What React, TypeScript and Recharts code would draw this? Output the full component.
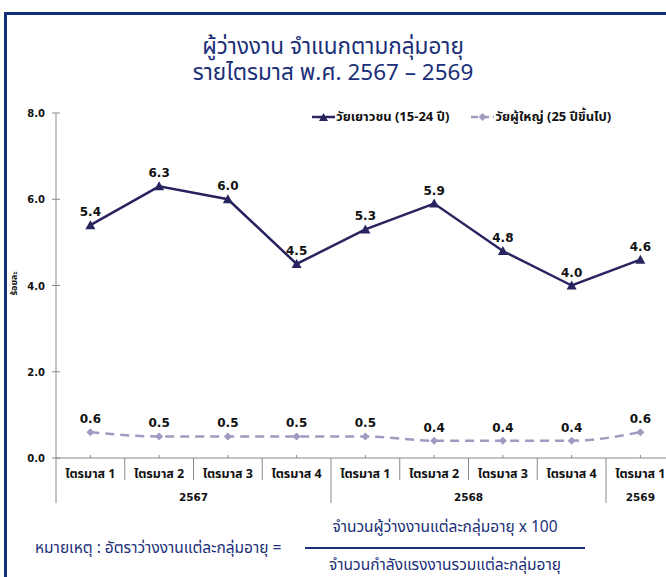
import React from 'react';
import { LineChart, Line, XAxis, YAxis, LabelList } from 'recharts';

const quarters = ['ไตรมาส 1', 'ไตรมาส 2', 'ไตรมาส 3', 'ไตรมาส 4', 'ไตรมาส 1', 'ไตรมาส 2', 'ไตรมาส 3', 'ไตรมาส 4', 'ไตรมาส 1'];
const years = ['2567', '2567', '2567', '2567', '2568', '2568', '2568', '2568', '2569'];
const youth = [5.4, 6.3, 6.0, 4.5, 5.3, 5.9, 4.8, 4.0, 4.6];
const adult = [0.6, 0.5, 0.5, 0.5, 0.5, 0.4, 0.4, 0.4, 0.6];
const yTicks = [0, 2, 4, 6, 8];
const titleLines = ['ผู้ว่างงาน จำแนกตามกลุ่มอายุ', 'รายไตรมาส พ.ศ. 2567 – 2569'];
const seriesNames = ['วัยเยาวชน (15-24 ปี)', 'วัยผู้ใหญ่ (25 ปีขึ้นไป)'];
const yLabel = 'ร้อยละ';
const noteLabel = 'หมายเหตุ : อัตราว่างงานแต่ละกลุ่มอายุ =';
const noteNum = 'จำนวนผู้ว่างงานแต่ละกลุ่มอายุ x 100';
const noteDen = 'จำนวนกำลังแรงงานรวมแต่ละกลุ่มอายุ';

const data = quarters.map((q, i) => ({ q, year: years[i], youth: youth[i], adult: adult[i] }));

const CHART_W = 700;
const CHART_H = 577;
const PLOT_LEFT = 56;
const PLOT_TOP = 113;
const PLOT_BOTTOM = 458;
const BAND = 68.75;
const PLOT_RIGHT = PLOT_LEFT + BAND * quarters.length;

const THAI = "Tahoma, 'Noto Sans Thai', 'Noto Sans', 'DejaVu Sans', sans-serif";
const NUM = "'DejaVu Sans', Verdana, sans-serif";
const NAVY = '#28245f';
const LAV = '#9e9bc0';
const AXIS = '#8a8a8a';
const BLUE = '#1b2f78';

const XTick = (props: any) => {
  const { x, y, payload } = props;
  const i = payload.index;
  const left = x - BAND / 2;
  const newYear = i === 0 || years[i] !== years[i - 1];
  let count = 0;
  if (newYear) {
    for (let j = i; j < years.length && years[j] === years[i]; j++) count++;
  }
  return (
    <g>
      <line x1={x} y1={y - 3} x2={x} y2={y} stroke={AXIS} strokeWidth={1} />
      <line x1={left} y1={y} x2={left} y2={y + (newYear ? 45 : 22)} stroke={AXIS} strokeWidth={1} />
      <text x={x} y={y + 20} textAnchor="middle" fontFamily={THAI} fontWeight="bold" fontSize={12.5} fill="#111">
        {quarters[i]}
      </text>
      {newYear && (
        <text x={left + (count * BAND) / 2} y={y + 43} textAnchor="middle" fontFamily={NUM} fontWeight="bold" fontSize={10.5} fill="#111">
          {years[i]}
        </text>
      )}
    </g>
  );
};

const YTick = (props: any) => {
  const { x, y, payload } = props;
  return (
    <g>
      <line x1={x - 4} y1={y} x2={x + 4} y2={y} stroke={AXIS} strokeWidth={1} />
      <text x={x - 11} y={y + 4} textAnchor="end" fontFamily={NUM} fontWeight="bold" fontSize={10} fill="#111">
        {Number(payload.value).toFixed(1)}
      </text>
    </g>
  );
};

const Triangle = (props: any) => {
  const { cx, cy } = props;
  if (cx == null || cy == null) return null;
  return <polygon points={`${cx - 5},${cy + 4} ${cx + 5},${cy + 4} ${cx},${cy - 5}`} fill={NAVY} />;
};

const Diamond = (props: any) => {
  const { cx, cy } = props;
  if (cx == null || cy == null) return null;
  return <polygon points={`${cx - 4},${cy} ${cx},${cy - 4} ${cx + 4},${cy} ${cx},${cy + 4}`} fill={LAV} />;
};

const YLabel = () => {
  const cy = (PLOT_TOP + PLOT_BOTTOM) / 2 - 2;
  return (
    <text x={17} y={cy} transform={`rotate(-90 17 ${cy})`} textAnchor="middle" fontFamily={THAI} fontWeight="bold" fontSize={9} fill="#111">
      {yLabel}
    </text>
  );
};

const fmt = (v: any) => Number(v).toFixed(1);

const noteStyle: React.CSSProperties = { position: 'absolute', fontFamily: THAI, fontSize: 15.5, color: BLUE, whiteSpace: 'nowrap', lineHeight: '20px' };

export default function App() {
  return (
    <div style={{ position: 'fixed', left: 0, top: 0, width: 666, height: 577, overflow: 'hidden', background: '#fff' }}>
      <div style={{ position: 'absolute', left: 4, top: 12, width: 720, height: 620, border: `3px solid #12307a`, boxSizing: 'border-box' }} />
      <div style={{ position: 'absolute', left: 0, width: 666, top: 34, textAlign: 'center', fontFamily: THAI, fontSize: 22.5, color: BLUE, lineHeight: '26px' }}>
        {titleLines[0]}
        <br />
        {titleLines[1]}
      </div>
      <div style={{ position: 'absolute', left: 0, top: 0 }}>
        <LineChart width={CHART_W} height={CHART_H} data={data} margin={{ top: PLOT_TOP, right: CHART_W - PLOT_RIGHT, bottom: CHART_H - PLOT_BOTTOM - 60, left: 0 }}>
          <XAxis dataKey="q" height={60} stroke={AXIS} tickLine={false} tickSize={0} tickMargin={0} interval={0} padding={{ left: BAND / 2, right: BAND / 2 }} tick={<XTick />} />
          <YAxis width={PLOT_LEFT} domain={[0, 8]} ticks={yTicks} stroke={AXIS} tickLine={false} tickSize={0} tickMargin={0} tick={<YTick />} label={<YLabel />} />
          <Line dataKey="youth" stroke={NAVY} strokeWidth={2.5} dot={<Triangle />} activeDot={false} isAnimationActive={false}>
            <LabelList dataKey="youth" position="top" offset={9} formatter={fmt} style={{ fontFamily: NUM, fontWeight: 'bold', fontSize: 12, fill: '#111' }} />
          </Line>
          <Line dataKey="adult" type="monotone" stroke={LAV} strokeWidth={2.5} strokeDasharray="9 6" dot={<Diamond />} activeDot={false} isAnimationActive={false}>
            <LabelList dataKey="adult" position="top" offset={9} formatter={fmt} style={{ fontFamily: NUM, fontWeight: 'bold', fontSize: 12, fill: '#111' }} />
          </Line>
        </LineChart>
      </div>
      <div style={{ position: 'absolute', left: 312, top: 108, display: 'flex', alignItems: 'center', fontFamily: THAI, fontWeight: 'bold', fontSize: 13, color: '#111', whiteSpace: 'nowrap', lineHeight: '18px' }}>
        <svg width={23} height={10} style={{ marginRight: 1 }}>
          <line x1={0} y1={5} x2={23} y2={5} stroke={NAVY} strokeWidth={2.5} />
          <polygon points="7,9 16,9 11.5,1" fill={NAVY} />
        </svg>
        <span>{seriesNames[0]}</span>
        <svg width={23} height={10} style={{ marginLeft: 22, marginRight: 1 }}>
          <line x1={0} y1={5} x2={23} y2={5} stroke={LAV} strokeWidth={2.5} strokeDasharray="7 4" />
          <polygon points="7.5,5 11.5,1 15.5,5 11.5,9" fill={LAV} />
        </svg>
        <span>{seriesNames[1]}</span>
      </div>
      <div style={{ ...noteStyle, left: 35, top: 539 }}>{noteLabel}</div>
      <div style={{ ...noteStyle, left: 305, width: 280, top: 518, textAlign: 'center' }}>{noteNum}</div>
      <div style={{ position: 'absolute', left: 305, width: 280, top: 547, height: 1.5, background: BLUE }} />
      <div style={{ ...noteStyle, left: 305, width: 280, top: 556, textAlign: 'center' }}>{noteDen}</div>
    </div>
  );
}
